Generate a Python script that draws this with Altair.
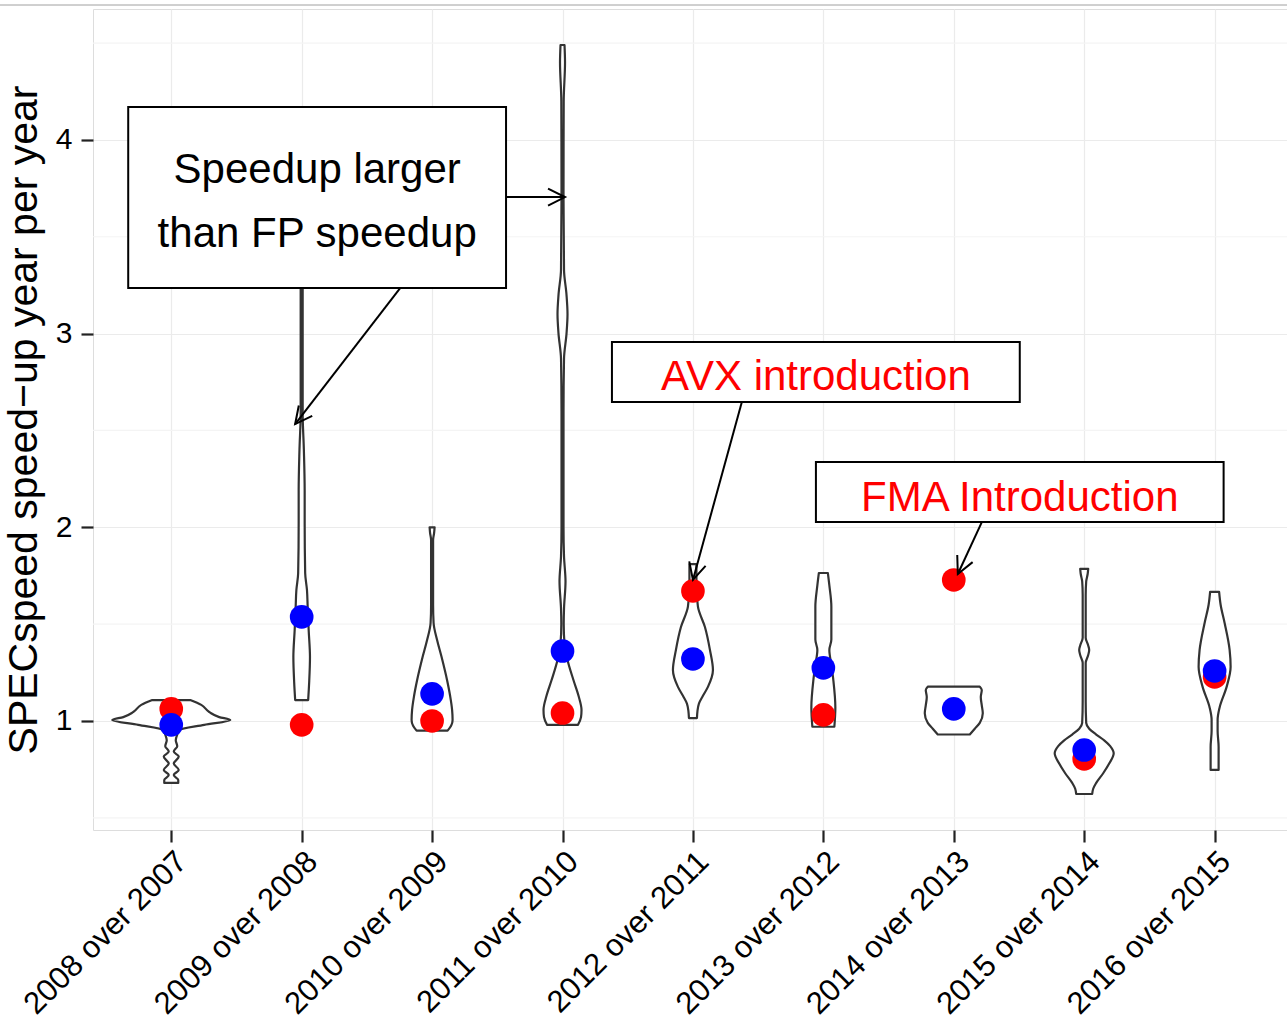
import math
import altair as alt
import pandas as pd

# ---------------- data ----------------
categories = ["2008 over 2007", "2009 over 2008", "2010 over 2009", "2011 over 2010",
              "2012 over 2011", "2013 over 2012", "2014 over 2013", "2015 over 2014",
              "2016 over 2015"]

red_values = [1.062, 0.98, 1.00, 1.041, 1.671, 1.031, 1.728, 0.804, 1.227]
blue_values = [0.98, 1.537, 1.14, 1.361, 1.32, 1.274, 1.062, 0.85, 1.258]

# violin outlines: (speed-up value, relative half width) per category
violin_2008 = [(0.68, 7), (0.695, 7), (0.721, 2.5), (0.747, 7.5), (0.78, 2.5), (0.816, 7.5), (0.842, 2.5),
               (0.87, 6), (0.90, 4.5), (0.93, 6), (0.953, 8), (0.98, 33), (1.005, 59), (1.02, 48),
               (1.046, 38), (1.083, 30), (1.108, 19)]
violin_2009 = [(1.108, 6.5), (1.2, 7.5), (1.33, 8.3), (1.47, 7), (1.59, 6), (1.676, 5.3), (1.764, 3.5),
               (2.02, 3), (2.19, 3), (2.4, 2.2), (2.59, 1), (3.0, 1), (3.4, 1)]
violin_2010 = [(0.95, 15.5), (0.975, 19), (1.005, 20.5), (1.057, 20), (1.13, 18), (1.21, 15), (1.33, 9.5),
               (1.418, 5), (1.506, 1.5), (1.6, 1), (1.8, 1), (1.934, 1), (1.97, 2), (2.0, 2.5)]
violin_2011 = [(0.98, 15.5), (1.02, 18.5), (1.057, 19), (1.13, 16), (1.21, 11), (1.315, 5), (1.4, 2),
               (1.5, 1.2), (1.58, 1.5), (1.72, 3), (1.85, 1.5), (2.0, 1), (2.6, 1), (2.87, 1.5),
               (3.0, 4), (3.1, 5), (3.2, 4), (3.33, 1.5), (3.7, 1), (4.2, 1.2), (4.4, 2.5), (4.49, 2)]
violin_2012 = [(1.015, 4), (1.05, 4.5), (1.09, 6), (1.13, 10), (1.176, 15), (1.263, 20), (1.367, 17),
               (1.485, 12), (1.59, 5), (1.70, 3.5), (1.81, 3.5)]
violin_2013 = [(0.97, 11), (1.07, 12), (1.21, 10), (1.29, 8), (1.367, 6), (1.42, 8), (1.59, 8),
               (1.70, 6), (1.764, 4.5)]
violin_2014 = [(0.93, 16), (0.96, 21), (0.99, 26), (1.04, 29), (1.08, 28), (1.124, 27), (1.16, 28),
               (1.177, 26)]
violin_2015 = [(0.623, 8), (0.65, 9), (0.68, 12), (0.73, 19), (0.78, 25), (0.833, 29.5), (0.87, 26),
               (0.90, 20), (0.93, 12), (0.96, 5), (0.99, 2), (1.1, 1.5), (1.30, 1.5), (1.34, 4),
               (1.367, 5), (1.39, 4), (1.43, 1.5), (1.65, 1.5), (1.72, 2), (1.76, 3.5), (1.785, 4)]
violin_2016 = [(0.747, 4), (0.866, 4), (0.95, 3), (1.005, 3), (1.07, 5), (1.176, 12), (1.28, 16),
               (1.367, 15), (1.506, 10), (1.6, 6), (1.667, 4.5)]
violins = [violin_2008, violin_2009, violin_2010, violin_2011, violin_2012,
           violin_2013, violin_2014, violin_2015, violin_2016]

# annotations (in data units: category index, speed-up)
box_x = [-0.33, 3.379, 4.943]
box_x2 = [2.567, 6.506, 8.069]
box_y = [3.235, 2.647, 2.027]
box_y2 = [4.170, 2.957, 2.337]
text_x = [1.119, 1.119, 4.943, 6.506]
text_y = [3.778, 3.447, 2.709, 2.084]
text_labels = ["Speedup larger", "than FP speedup", "AVX introduction", "FMA Introduction"]
text_colors = ["black", "black", "red", "red"]
arrow_from_x = [2.567, 1.755, 4.375, 6.215]
arrow_from_y = [3.705, 3.235, 2.647, 2.027]
arrow_to_x = [3.019, 0.950, 4.0, 6.031]
arrow_to_y = [3.705, 2.533, 1.728, 1.759]

minor_grid = [0.5, 1.5, 2.5, 3.5, 4.5]

# ---------------- layout ----------------
W, H = 1194, 821
XDOM = [-0.6, 8.555]
YDOM = [0.437, 4.676]
PXX = W / (XDOM[1] - XDOM[0])
PXY = H / (YDOM[1] - YDOM[0])
WSCALE = 130.4
FONT = "Liberation Sans"

xscale = alt.Scale(domain=XDOM, nice=False, zero=False)
yscale = alt.Scale(domain=YDOM, nice=False, zero=False)

label_js = "[" + ",".join("'%s'" % c for c in categories) + "][datum.value]"
YTITLE = "SPECspeed speed\u2212up year per year"

y_axis = alt.Axis(values=[1, 2, 3, 4], title=YTITLE,
                  titleFontSize=41, titleFontWeight="normal", titleColor="black",
                  titleFont=FONT, titlePadding=10,
                  labelFontSize=30, labelColor="black", labelFont=FONT, labelPadding=9,
                  tickColor="#222222", tickWidth=2.2, tickSize=12,
                  domain=False, grid=True, gridColor="#ebebeb", gridWidth=1.2)
x_axis = alt.Axis(values=list(range(9)), labelExpr=label_js, labelAngle=-45,
                  labelAlign="right", labelBaseline="top", labelFontSize=31,
                  labelColor="black", labelFont=FONT, labelPadding=4, labelLimit=0,
                  tickColor="#222222", tickWidth=2.2, tickSize=12, domain=False,
                  grid=True, gridColor="#ebebeb", gridWidth=1.2, title=None,
                  labelOverlap=False)


def X(field):
    return alt.X(field, scale=xscale, axis=x_axis, title=None)


def Y(field):
    return alt.Y(field, scale=yscale, axis=y_axis, title=YTITLE)


vrows = []
for i, prof in enumerate(violins):
    for v, w in prof:
        vrows.append({"cat": categories[i], "i": i, "v": v, "w": w})
df_v = pd.DataFrame(vrows)

df_red = pd.DataFrame({"i": range(9), "v": red_values})
df_blue = pd.DataFrame({"i": range(9), "v": blue_values})
df_box = pd.DataFrame({"x": box_x, "x2": box_x2, "y": box_y, "y2": box_y2})
df_text = pd.DataFrame({"x": text_x, "y": text_y, "t": text_labels, "c": text_colors})
angles = []
for fx, fy, tx, ty in zip(arrow_from_x, arrow_from_y, arrow_to_x, arrow_to_y):
    dx = (tx - fx) * PXX
    dy = -(ty - fy) * PXY
    angles.append(math.degrees(math.atan2(dx, -dy)) % 360)
df_arrow = pd.DataFrame({"x": arrow_from_x, "y": arrow_from_y, "x2": arrow_to_x,
                         "y2": arrow_to_y, "a": angles})
df_minor = pd.DataFrame({"y": minor_grid, "x": [XDOM[0]] * 5, "x2": [XDOM[1]] * 5})

minor = alt.Chart(df_minor).mark_rule(color="#f4f4f4", strokeWidth=1.2).encode(
    y=Y("y:Q"), x=X("x:Q"), x2="x2:Q"
)

violin = alt.Chart(df_v).transform_calculate(
    xl="datum.i - datum.w / %f" % WSCALE,
    xr="datum.i + datum.w / %f" % WSCALE,
).mark_area(orient="horizontal", interpolate="monotone", fill="white",
            stroke="#333333", strokeWidth=2.2, strokeJoin="round").encode(
    y=Y("v:Q"),
    x=X("xl:Q"),
    x2="xr:Q",
    detail="cat:N",
)

red = alt.Chart(df_red).mark_circle(size=560, color="#ff0000", opacity=1).encode(
    x=X("i:Q"), y=Y("v:Q"))
blue = alt.Chart(df_blue).mark_circle(size=560, color="#0000ff", opacity=1).encode(
    x=X("i:Q"), y=Y("v:Q"))

boxes = alt.Chart(df_box).mark_rect(fill="white", stroke="black", strokeWidth=2).encode(
    x=X("x:Q"), x2="x2:Q", y=Y("y:Q"), y2="y2:Q")

texts = alt.Chart(df_text).mark_text(font=FONT, fontSize=42, align="center",
                                     baseline="alphabetic").encode(
    x=X("x:Q"), y=Y("y:Q"), text="t:N", color=alt.Color("c:N", scale=None))

shafts = alt.Chart(df_arrow).mark_rule(color="black", strokeWidth=2).encode(
    x=X("x:Q"), x2="x2:Q", y=Y("y:Q"), y2="y2:Q")

heads = alt.Chart(df_arrow).mark_point(shape="M -0.5 1 L 0 0 L 0.5 1", filled=False,
                                       size=1150, color="black", strokeWidth=2,
                                       opacity=1).encode(
    x=X("x2:Q"), y=Y("y2:Q"), angle=alt.Angle("a:Q", scale=None))

topline = alt.Chart(pd.DataFrame({"k": [0]})).mark_rule(color="#a0a0a0", strokeWidth=1).encode(
    x=alt.value(-93), x2=alt.value(W), y=alt.value(-4))

chart = alt.layer(minor, violin, red, blue, boxes, shafts, heads, texts, topline).properties(
    width=W, height=H,
    padding={"left": 93, "top": 9, "right": 0, "bottom": 195},
    autosize=alt.AutoSizeParams(type="none"),
).configure_view(stroke="#858585", strokeWidth=1.5).configure(font=FONT)

chart.save("out.html", embed_options={"renderer": "svg", "actions": False})
